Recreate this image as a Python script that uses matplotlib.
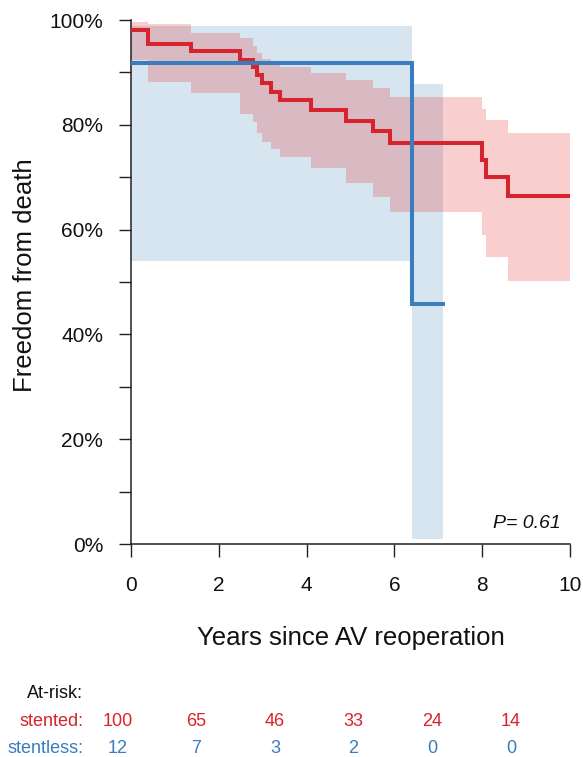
import matplotlib
matplotlib.use("Agg")
import matplotlib.pyplot as plt
import numpy as np

plt.rcParams['font.family'] = ['Liberation Sans', 'DejaVu Sans']

# ---- data ----
# stented group: Kaplan-Meier step times (years) and survival (%)
stented_t = [0, 0.39, 1.37, 2.48, 2.79, 2.86, 2.98, 3.20, 3.39, 4.10, 4.90, 5.51, 5.90, 7.99, 8.09, 8.59]
stented_s = [98.1, 95.5, 94.0, 92.4, 91.1, 89.5, 87.9, 86.3, 84.8, 82.8, 80.8, 78.8, 76.5, 73.3, 70.1, 66.4]
stented_hi = [99.6, 99.2, 97.6, 96.5, 95.0, 93.7, 92.6, 92.1, 91.1, 89.8, 88.5, 87.0, 85.4, 83.1, 80.9, 78.5]
stented_lo = [92.4, 88.2, 86.0, 82.0, 80.5, 78.5, 76.8, 75.3, 73.9, 71.7, 68.8, 66.3, 63.4, 59.0, 54.8, 50.1]
stented_end = 10.0

# stentless group
stentless_t = [0, 6.39]
stentless_s = [91.7, 45.8]
stentless_hi = [98.9, 87.8]
stentless_lo = [54.0, 1.0]
stentless_end = 7.1

# at-risk table
risk_times = [0, 2, 4, 6, 8, 10]
risk_stented = [100, 65, 46, 33, 24, 14]
risk_stentless = [12, 7, 3, 2, 0, 0]

p_text = "P= 0.61"

RED = '#D7232D'
BLUE = '#3A7DBE'
RED_FILL = '#E41A1C'
BLUE_FILL = '#377EB8'

W, H = 583, 757
fig = plt.figure(figsize=(W / 100, H / 100), dpi=100)
ax = fig.add_axes([131 / W, 1 - 544 / H, (570 - 131) / W, (544 - 20) / H])


def ext(t, v, end):
    return list(t) + [end], list(v) + [v[-1]]


# CI bands
tb, lob = ext(stentless_t, stentless_lo, stentless_end)
_, hib = ext(stentless_t, stentless_hi, stentless_end)
ax.fill_between(tb, lob, hib, step='post', color=BLUE_FILL, alpha=0.2, lw=0, zorder=1)

tr, lor = ext(stented_t, stented_lo, stented_end)
_, hir = ext(stented_t, stented_hi, stented_end)
ax.fill_between(tr, lor, hir, step='post', color=RED_FILL, alpha=0.21, lw=0, zorder=2)

# survival curves
tr2, sr = ext(stented_t, stented_s, stented_end)
ax.step(tr2, sr, where='post', color=RED, lw=2.9, zorder=3, solid_joinstyle='miter')
tb2, sb = ext(stentless_t, stentless_s, stentless_end)
ax.step(tb2, sb, where='post', color=BLUE, lw=2.9, zorder=4, solid_joinstyle='miter')

ax.set_xlim(0, 10)
ax.set_ylim(0, 100)
for s in ['top', 'right']:
    ax.spines[s].set_visible(False)
for s in ['left', 'bottom']:
    ax.spines[s].set_linewidth(1.1)
    ax.spines[s].set_color('#222222')

ax.set_xticks([0, 2, 4, 6, 8, 10])
ax.set_xticklabels(['0', '2', '4', '6', '8', '10'])
ax.set_yticks([0, 20, 40, 60, 80, 100])
ax.set_yticklabels(['0%', '20%', '40%', '60%', '80%', '100%'])
ax.set_yticks([10, 30, 50, 70, 90], minor=True)
ax.tick_params(axis='both', which='both', length=9, width=1.0, color='#222222',
               labelsize=15, labelcolor='#111111')
ax.tick_params(axis='x', pad=14)
ax.tick_params(axis='y', pad=11)

ax.text(0.979, 0.04, p_text, transform=ax.transAxes, ha='right', va='center',
        fontsize=14, style='italic', color='#111111')

fig.text(351 / W, 1 - 638 / H, 'Years since AV reoperation', ha='center', va='center',
         fontsize=18.5, color='#111111')
fig.text(25 / W, 1 - 275 / H, 'Freedom from death', ha='center', va='center',
         rotation=90, fontsize=18.5, color='#111111')

# at-risk table
fig.text(83 / W, 1 - 693 / H, 'At-risk:', ha='right', va='center', fontsize=13, color='#111111')
fig.text(83 / W, 1 - 721.5 / H, 'stented:', ha='right', va='center', fontsize=13, color=RED)
fig.text(83 / W, 1 - 748.5 / H, 'stentless:', ha='right', va='center', fontsize=13, color=BLUE)
for i, (a, b) in enumerate(zip(risk_stented, risk_stentless)):
    x = (117.5 + 78.7 * i) / W
    fig.text(x, 1 - 721.5 / H, str(a), ha='center', va='center', fontsize=13, color=RED)
    fig.text(x, 1 - 748.5 / H, str(b), ha='center', va='center', fontsize=13, color=BLUE)

fig.savefig('out.png', dpi=100)
